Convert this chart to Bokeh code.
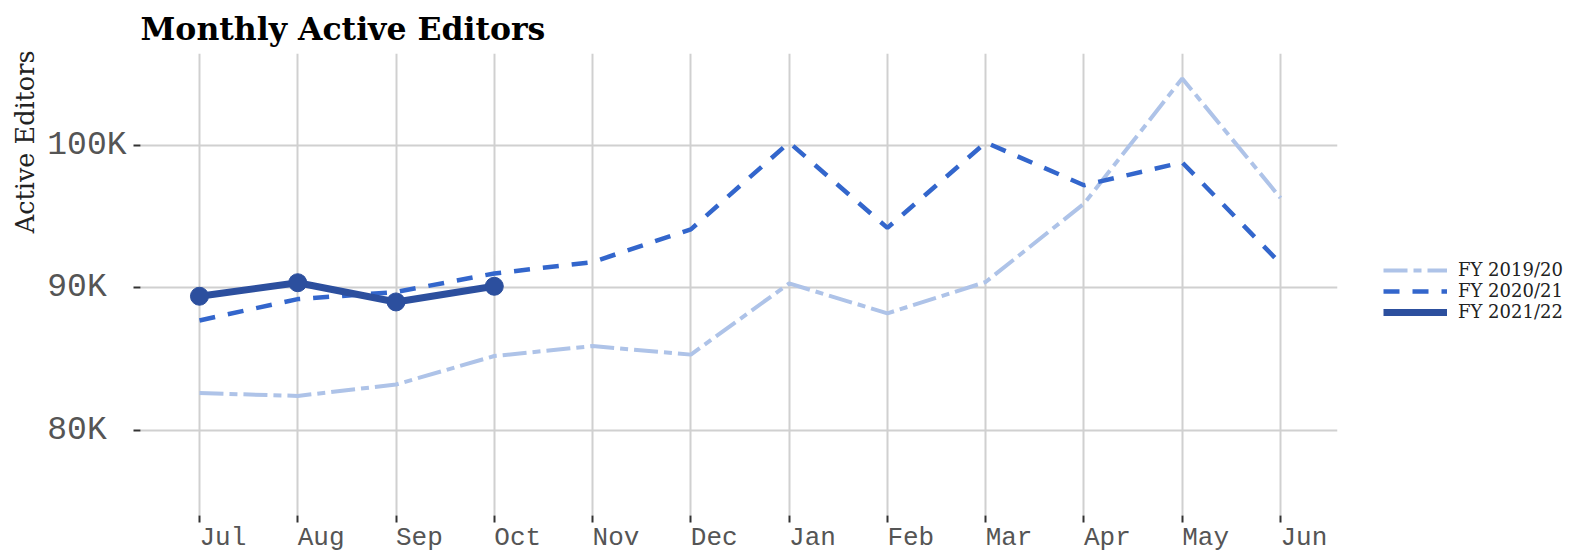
from bokeh.plotting import figure
from bokeh.layouts import row
from bokeh.models import Legend, LegendItem, FixedTicker, Range1d, ColumnDataSource, Title
from bokeh.embed import file_html
from bokeh.resources import INLINE

# ---- data ----
months = ["Jul", "Aug", "Sep", "Oct", "Nov", "Dec", "Jan", "Feb", "Mar", "Apr", "May", "Jun"]
fy_2019_20 = [82600, 82400, 83200, 85200, 85900, 85300, 90300, 88200, 90400, 95900, 104700, 96300]
fy_2020_21 = [87700, 89200, 89700, 91000, 91800, 94100, 100200, 94200, 100200, 97200, 98800, 91700]
fy_2021_22 = [89400, 90350, 89000, 90100]
series_names = ["FY 2019/20", "FY 2020/21", "FY 2021/22"]
y_ticks = [80000, 90000, 100000]
y_tick_labels = ["80K", "90K", "100K"]

LIGHT = "#aec3e8"
MID = "#3366cc"
DARK = "#2c4f9e"
NBSP = "\u00a0"
STYLES = [dict(line_color=LIGHT, line_width=4, line_dash="24 6 8 6"),
          dict(line_color=MID, line_width=4.5, line_dash="16 13"),
          dict(line_color=DARK, line_width=7)]

idx = list(range(len(months)))

src1 = ColumnDataSource(dict(x=idx, y=fy_2019_20))
src2 = ColumnDataSource(dict(x=idx, y=fy_2020_21))
src3 = ColumnDataSource(dict(x=idx[:len(fy_2021_22)], y=fy_2021_22))
sources = [src1, src2, src3]

p = figure(width=1347, height=555, output_backend="svg", toolbar_location=None,
           x_range=Range1d(-0.6, 11.58), y_range=Range1d(74000, 106450),
           min_border_left=140, min_border_right=10, min_border_top=52, min_border_bottom=38)
p.outline_line_color = None
p.background_fill_color = "white"
p.border_fill_color = "white"

p.title.text = "Monthly Active Editors"
p.title.text_font = "DejaVu Serif"
p.title.text_font_style = "bold"
p.title.text_font_size = "31.5px"
p.title.text_color = "#000000"
p.title.standoff = 14

for s, st in zip(sources, STYLES):
    p.line("x", "y", source=s, **st)
p.scatter("x", "y", source=src3, size=18, color=DARK)

# axes (labels are left-aligned on their ticks, as in the reference)
p.xaxis.ticker = FixedTicker(ticks=idx)
p.xaxis.major_label_overrides = {i: NBSP * len(m) + m for i, m in zip(idx, months)}
p.yaxis.ticker = FixedTicker(ticks=y_ticks)
pad = max(len(s) for s in y_tick_labels)
p.yaxis.major_label_overrides = {v: s + NBSP * (pad - len(s)) for v, s in zip(y_ticks, y_tick_labels)}

for ax in (p.xaxis, p.yaxis):
    ax.axis_line_color = None
    ax.minor_tick_line_color = None
    ax.major_tick_in = 0
    ax.major_tick_out = 7
    ax.major_tick_line_color = "#333333"
    ax.major_tick_line_width = 2
    ax.major_label_text_font = "Liberation Mono"
    ax.major_label_text_color = "#555555"

p.xaxis.major_label_text_font_size = "26px"
p.xaxis.major_label_standoff = 0
p.yaxis.major_label_text_font_size = "33px"
p.yaxis.major_label_standoff = 7

ylab = Title(text="Active Editors", align="right", text_font="DejaVu Serif",
             text_font_style="normal", text_font_size="25.5px", text_color="#222222",
             standoff=10, offset=-3)
p.add_layout(ylab, "left")

p.xgrid.ticker = FixedTicker(ticks=idx)
p.ygrid.ticker = FixedTicker(ticks=y_ticks)
for g in (p.xgrid, p.ygrid):
    g.grid_line_color = "#d0d0d0"
    g.grid_line_width = 2

# legend column to the right of the panel (its key lines lie outside its own view)
q = figure(width=232, height=555, output_backend="svg", toolbar_location=None,
           x_axis_type=None, y_axis_type=None, min_border=0,
           x_range=Range1d(0, 1), y_range=Range1d(0, 1))
q.outline_line_color = None
q.grid.visible = False
q.border_fill_color = "white"
q.background_fill_color = "white"
key_renderers = [q.line("x", "y", source=s, **st) for s, st in zip(sources, STYLES)]
legend = Legend(items=[LegendItem(label=n, renderers=[r]) for n, r in zip(series_names, key_renderers)],
                location=(36, 193), glyph_width=64, glyph_height=20, label_height=20,
                spacing=0, padding=0, margin=0, border_line_color=None,
                background_fill_alpha=0, label_text_font="DejaVu Serif",
                label_text_font_size="18px", label_text_color="#222222", label_standoff=11)
q.add_layout(legend)

layout = row(p, q, spacing=0)
open("out.html", "w").write(file_html(layout, INLINE))
